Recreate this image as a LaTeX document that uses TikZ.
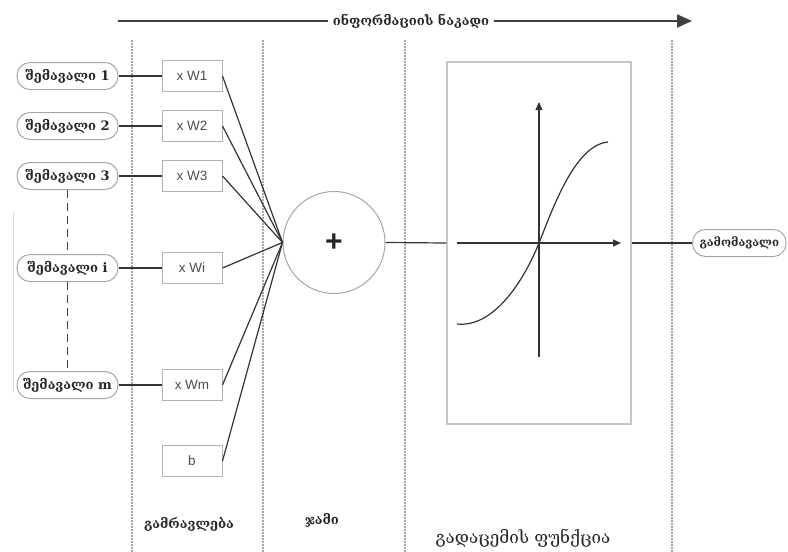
\documentclass[tikz,border=0pt]{standalone}
\usepackage{fontspec}
\setmainfont{Liberation Sans}
\newfontfamily\geo{DejaVu Serif}
\usetikzlibrary{arrows.meta}
\begin{document}
\begin{tikzpicture}[x=1pt,y=-1pt,
  inp/.style={draw=gray!70, line width=1pt, rounded corners=13pt, minimum width=101pt, minimum height=27pt, inner sep=0pt, font=\geo\bfseries\fontsize{13}{14}\selectfont, text=black!85},
  wbox/.style={draw=gray!60, line width=1pt, minimum width=60pt, minimum height=31pt, inner sep=0pt, font=\fontsize{13.5}{14}\selectfont, text=black!70},
  conn/.style={draw=black!80, line width=1.2pt},
  sep/.style={draw=gray!70, line width=1.3pt, dash pattern=on 1.5pt off 1.5pt},
  dsh/.style={draw=black!75, line width=1.2pt, dash pattern=on 8pt off 5pt},
  lab/.style={font=\geo\bfseries\fontsize{13}{14}\selectfont, text=black!85}
]
\useasboundingbox (0,0) rectangle (788,552);
\clip (0,0) rectangle (788,552);
% separators
\draw[sep] (132,40) -- (132,552);
\draw[sep] (263,40) -- (263,552);
\draw[sep] (405,40) -- (405,552);
\draw[sep] (672,40) -- (672,552);
% faint left line
\draw[gray!30, line width=1pt] (13,212) -- (13,393);
% top flow arrow
\node[lab, inner sep=5pt] (flow) at (411,21) {ინფორმაციის ნაკადი};
\coordinate (fs) at (118,21);
\coordinate (fe) at (692,21);
\draw[draw=black!75, line width=2pt] (fs) -- (flow.west);
\draw[draw=black!75, line width=2pt, -{Triangle[length=15pt,width=13pt]}] (flow.east) -- (fe);
% inputs
\node[inp] (in1) at (67.5,76) {შემავალი 1};
\node[inp] (in2) at (67.5,126) {შემავალი 2};
\node[inp] (in3) at (67.5,176) {შემავალი 3};
\node[inp] (ini) at (67.5,268) {შემავალი i};
\node[inp] (inm) at (67.5,385) {შემავალი m};
% weights
\node[wbox] (w1) at (192,76) {x W1};
\node[wbox] (w2) at (192,126) {x W2};
\node[wbox] (w3) at (192,176) {x W3};
\node[wbox] (wi) at (192,268) {x Wi};
\node[wbox] (wm) at (192,385) {x Wm};
\node[wbox] (b) at (192,461) {b};
% dashed
\draw[dsh] (in3) -- (ini);
\draw[dsh] (ini) -- (inm);
% input to weight
\foreach \a/\c in {in1/w1,in2/w2,in3/w3,ini/wi,inm/wm} \draw[conn] (\a) -- (\c);
% sum
\node[circle, draw=gray!70, line width=1pt, minimum size=102pt, inner sep=0pt, font=\fontsize{30}{30}\selectfont\bfseries, text=black!85] (sum) at (334,242.5) {+};
\foreach \c in {w1,w2,w3,wi,wm,b} \draw[conn] (\c.east) -- (sum.west);
% transfer function box
\node[draw=gray!45, line width=1.3pt, minimum width=184pt, minimum height=362pt, inner sep=0pt] (tf) at (539,243) {};
\draw[conn] (sum.east) -- (tf.west);
\coordinate (ax0) at (457,243);
\coordinate (ax1) at (621,243);
\coordinate (ay0) at (539,357);
\coordinate (ay1) at (539,102);
\draw[conn, -{Triangle[length=8pt,width=7pt]}] (ax0) -- (ax1);
\draw[conn, -{Triangle[length=8pt,width=7pt]}] (ay0) -- (ay1);
\draw[conn] (457,324) .. controls (495,328) and (525,278) .. (539,243) .. controls (553,208) and (575,145) .. (608,142);
% output
\node[inp, anchor=west, minimum width=0pt, inner xsep=7pt, font=\geo\bfseries\fontsize{11.5}{13}\selectfont] (out) at (692,243) {გამომავალი};
\draw[conn] (tf.east) -- (out.west);
% bottom labels
\node[lab] (l1) at (189,524) {გამრავლება};
\node[lab] (l2) at (322,520) {ჯამი};
\node[lab, font=\geo\fontsize{17}{19}\selectfont] (l3) at (523,538) {გადაცემის ფუნქცია};
\end{tikzpicture}
\end{document}
